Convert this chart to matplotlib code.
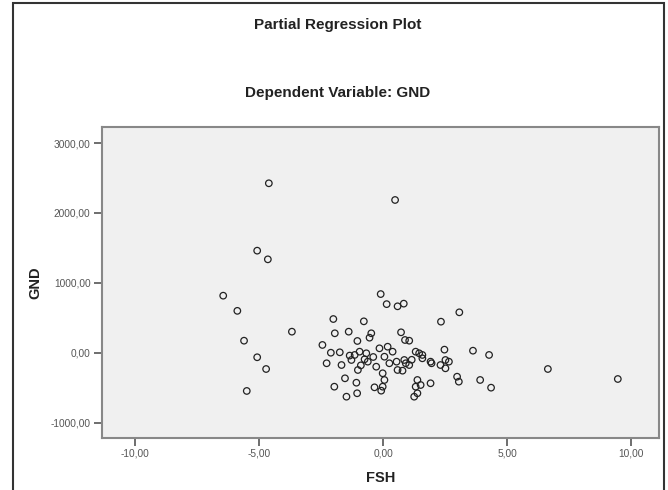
import matplotlib.pyplot as plt
from matplotlib.patches import Rectangle

plt.rcParams['font.family'] = ['Liberation Sans', 'DejaVu Sans']

# points
fsh = [-4.61, 0.48, -5.08, -4.65, -6.45, -5.88, -0.10, 0.14, 0.58, 0.83,
       -2.01, -0.78, -3.68, -5.61, -5.08, -4.72, -5.50, -1.95, -1.39, -0.48,
       -0.55, -1.04, 0.72, 0.88, 1.05, 2.33, 3.07, -2.45, -2.11, -1.75,
       -2.28, -1.68, -1.28, -1.15, -0.95, -0.68, -0.75, -0.62, -1.02, -0.28,
       -0.02, -0.15, 0.18, 0.38, 0.05, 0.54, 0.85, 1.05, 0.58, 0.78,
       1.45, 1.58, 1.95, 2.31, 2.47, 2.65, 1.38, 1.31, 1.25, 1.51,
       1.91, -1.97, -1.54, -1.08, -1.48, -1.05, -0.35, -0.02, -0.08, 0.05,
       3.62, 4.27, 1.31, 1.58, 1.91, 2.51, 2.51, 0.91, 2.98, 3.05,
       3.91, 4.35, 1.38, 6.64, 9.46, -1.35, -0.90, 0.25, 1.15, -0.40]
gnd = [2425, 2186, 1461, 1337, 817, 600, 840, 696, 665, 703,
       483, 450, 302, 173, -64, -232, -546, 279, 302, 279,
       216, 169, 293, 183, 173, 445, 579, 112, 1, 7,
       -150, -175, -103, -31, 16, -7, -93, -127, -246, -199,
       -293, 64, 87, 16, -56, -127, -103, -175, -246, -256,
       -7, -79, -150, -175, 45, -127, -389, -485, -628, -461,
       -436, -485, -365, -428, -628, -579, -494, -485, -542, -389,
       30, -31, 16, -31, -127, -103, -222, -150, -342, -413,
       -389, -499, -579, -232, -375, -40, -180, -150, -100, -60]

xticks = [-10, -5, 0, 5, 10]
xlabels = ['-10,00', '-5,00', '0,00', '5,00', '10,00']
yticks = [-1000, 0, 1000, 2000, 3000]
ylabels = ['-1000,00', '0,00', '1000,00', '2000,00', '3000,00']

fig = plt.figure(figsize=(6.68, 4.9), dpi=100)
fig.patch.set_facecolor('white')
ax = fig.add_axes([0.1522, 0.1067, 0.8343, 0.6341])
ax.set_facecolor('#f0f0f0')

ax.scatter(fsh, gnd, s=22, facecolors='none', edgecolors='#222222', linewidths=0.9)

ax.set_xlim(-11.35, 11.12)
ax.set_ylim(-1215, 3230)
ax.set_xticks(xticks)
ax.set_xticklabels(xlabels)
ax.set_yticks(yticks)
ax.set_yticklabels(ylabels)
ax.tick_params(length=6, width=1.2, color='#555555', labelsize=7.3,
               labelcolor='#555555', pad=2)
for s in ax.spines.values():
    s.set_color('#888888')
    s.set_linewidth(1.5)

ax.set_xlabel('FSH', fontsize=10.5, fontweight='bold', color='#222222', labelpad=9)
ax.set_ylabel('GND', fontsize=10.5, fontweight='bold', color='#222222', labelpad=6)

fig.text(0.505, 1 - 25 / 490, 'Partial Regression Plot', ha='center', va='center',
         fontsize=11, fontweight='bold', color='#222222')
fig.text(0.505, 1 - 93 / 490, 'Dependent Variable: GND', ha='center', va='center',
         fontsize=11, fontweight='bold', color='#222222')

# outer chart frame
fig.patches.append(Rectangle((12.7 / 668, -0.1), (664 - 12.7) / 668, 1.1 - 3.5 / 490,
                             transform=fig.transFigure, fill=False,
                             edgecolor='#333333', linewidth=1.5))

fig.savefig('out.png', dpi=100)
